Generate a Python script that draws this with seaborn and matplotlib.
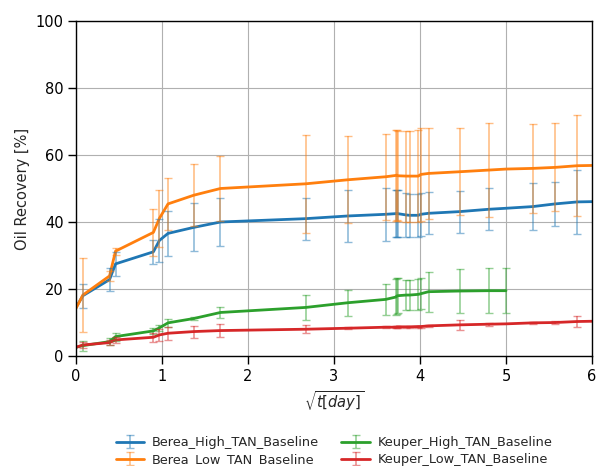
import numpy as np
import pandas as pd
import matplotlib
matplotlib.use("Agg")
import matplotlib.pyplot as plt
from matplotlib.container import ErrorbarContainer
import seaborn as sns

# sqrt(time) sampling points shared by all runs
sqrt_t = [0, 0.08, 0.39, 0.46, 0.90, 0.97, 1.07, 1.37, 1.68, 2.67, 3.16, 3.60,
          3.72, 3.73, 3.74, 3.84, 3.88, 3.98, 4.01, 4.10, 4.46, 4.80, 5.00,
          5.31, 5.57, 5.83, 6.05]

nan = np.nan

berea_high = [14.5, 18.0, 22.8, 27.5, 31.1, 34.5, 36.6, 38.4, 40.0, 41.0, 41.8, 42.3,
              42.5, 42.6, 42.5, 42.1, 42.0, 42.0, 42.3, 42.6, 43.1, 43.8, 44.1,
              44.6, 45.4, 46.0, 46.1]
berea_high_err = [nan, 3.6, 3.5, 3.6, 3.5, 6.5, 6.6, 7.2, 7.2, 6.3, 7.9, 7.9,
                  7.0, 7.0, 7.0, 6.5, 6.5, 6.5, 6.5, 6.3, 6.3, 6.3, nan,
                  7.0, 6.6, 9.5, nan]

berea_low = [14.2, 18.2, 23.9, 31.3, 36.9, 41.1, 45.4, 48.0, 50.0, 51.4, 52.6, 53.5,
             53.9, 54.0, 53.8, 53.7, 53.7, 53.7, 54.2, 54.5, 55.0, 55.5, 55.8,
             56.0, 56.3, 56.8, 56.9]
berea_low_err = [nan, 11.0, 1.5, 1.0, 7.0, 8.5, 7.8, 9.2, 9.7, 14.7, 13.0, 12.9,
                 13.5, 13.5, 13.5, 13.6, 13.6, 13.8, 13.8, 13.5, 13.0, 13.9, nan,
                 13.3, 13.1, 15.0, nan]

keuper_high = [2.6, 3.1, 4.3, 5.8, 7.5, 8.4, 9.9, 11.2, 13.0, 14.5, 15.9, 16.9,
               17.6, 17.9, 18.0, 18.2, 18.2, 18.4, 18.6, 19.2, 19.4, 19.5, 19.5,
               nan, nan, nan, nan]
keuper_high_err = [nan, 1.5, 1.0, 1.2, 0.8, 0.8, 1.1, 0.5, 1.7, 3.6, 3.9, 4.6,
                   5.3, 5.3, 5.3, 4.6, 4.6, 4.6, 4.6, 6.0, 6.7, 6.7, 6.8,
                   nan, nan, nan, nan]

keuper_low = [2.6, 3.3, 4.0, 4.8, 5.6, 6.3, 6.8, 7.3, 7.6, 8.0, 8.3, 8.6,
              8.6, 8.7, 8.7, 8.7, 8.7, 8.8, 8.8, 9.0, 9.3, 9.5, 9.6,
              9.9, 10.0, 10.3, 10.4]
keuper_low_err = [nan, 1.0, 0.8, 0.8, 1.4, 1.8, 2.0, 1.8, 1.9, 1.2, 0.3, 0.3,
                  0.3, 0.3, 0.3, 0.3, 0.3, 0.3, 0.3, 0.3, 1.4, 0.5, nan,
                  0.4, 0.5, 1.6, nan]

labels = ["Berea_High_TAN_Baseline", "Berea_Low_TAN_Baseline",
          "Keuper_High_TAN_Baseline", "Keuper_Low_TAN_Baseline"]
series = [(berea_high, berea_high_err), (berea_low, berea_low_err),
          (keuper_high, keuper_high_err), (keuper_low, keuper_low_err)]

sns.set_style("ticks")
plt.rcParams['font.family'] = ['DejaVu Sans']
colors = sns.color_palette("tab10", 4)

# long table for seaborn
rows = []
for name, (vals, errs) in zip(labels, series):
    for t, v, e in zip(sqrt_t, vals, errs):
        rows.append({"sqrt_t": t, "recovery": v, "err": e, "run": name})
df = pd.DataFrame(rows).dropna(subset=["recovery"])

fig, ax = plt.subplots(figsize=(5.96, 4.66), dpi=100)
fig.subplots_adjust(left=0.1275, right=0.9933, top=0.955, bottom=0.236)

sns.lineplot(data=df, x="sqrt_t", y="recovery", hue="run", hue_order=labels,
             palette=colors, lw=2, sort=False, estimator=None, legend=False, ax=ax)

handles = []
for i, name in enumerate(labels):
    sub = df[df["run"] == name]
    cont = ax.errorbar(sub["sqrt_t"], sub["recovery"], yerr=sub["err"], fmt="none",
                       ecolor=colors[i], alpha=0.5, capsize=3, elinewidth=1.2,
                       capthick=1.0)
    line = ax.get_lines()[i]
    # legend handle: seaborn line + the error bars
    handles.append(ErrorbarContainer((line, cont.lines[1], cont.lines[2]),
                                     has_xerr=False, has_yerr=True, label=name))

ax.set_xlim(0, 6)
ax.set_ylim(0, 100)
ax.set_xticks(range(0, 7))
ax.set_yticks(range(0, 101, 20))
ax.grid(True, color="#b0b0b0", lw=0.8)
for s in ax.spines.values():
    s.set_color("black")
    s.set_linewidth(1.0)
ax.tick_params(labelsize=10.5, colors="black", width=1, length=5.5)
ax.set_xlabel(r"$\sqrt{t[day]}$", fontsize=10.5)
ax.set_ylabel("Oil Recovery [%]", fontsize=10.5)

ax.legend(handles, labels, loc="upper center", bbox_to_anchor=(0.5, -0.205),
          ncol=2, frameon=False, fontsize=9.3, columnspacing=1.75,
          labelspacing=0.3, handlelength=2.2, handletextpad=0.6)

fig.savefig("out.png", dpi=100)
